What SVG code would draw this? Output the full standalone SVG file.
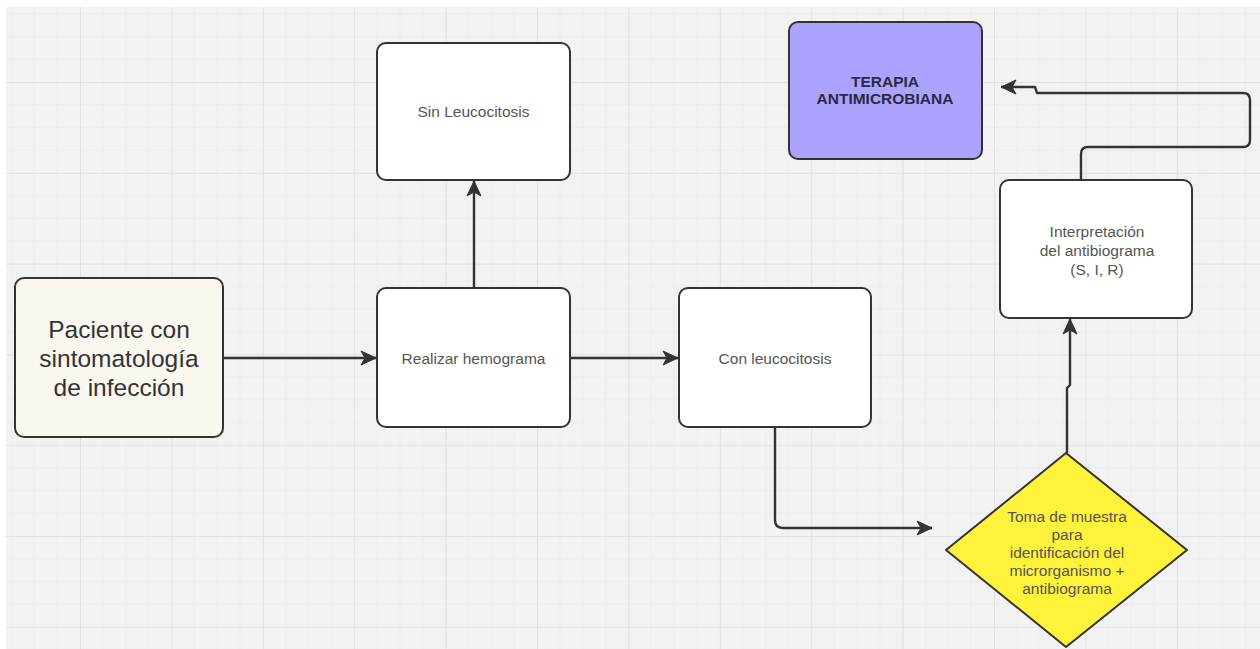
<svg xmlns="http://www.w3.org/2000/svg" width="1260" height="649" viewBox="0 0 1260 649">
<style>
.box{stroke:#333;stroke-width:2;}
.lbl{font-family:"Liberation Sans",Arial,sans-serif;font-size:15.5px;fill:#555;text-anchor:middle;}
.conn{fill:none;stroke:#333;stroke-width:2.4;stroke-linejoin:round;}
</style>
<defs>
<pattern id="grid" patternUnits="userSpaceOnUse" x="80" y="82" width="91.4" height="90.8">
<path d="M22.85 0V90.8M45.7 0V90.8M68.55 0V90.8M0 22.7H91.4M0 45.4H91.4M0 68.1H91.4" stroke="#ececec" stroke-width="1" fill="none"/>
<path d="M0.5 0V90.8M0 0.5H91.4" stroke="#e0e0e0" stroke-width="1" fill="none"/>
</pattern>
<marker id="arr" markerUnits="userSpaceOnUse" markerWidth="18" markerHeight="18" viewBox="0 0 18 18" refX="16" refY="9" orient="auto">
<path d="M1 2 L16 9 L1 16 L5 9 Z" fill="#333" stroke="#333" stroke-width="1" stroke-linejoin="round"/>
</marker>
</defs>
<rect x="0" y="0" width="1260" height="649" fill="#ffffff"/>
<rect x="6" y="7" width="1254" height="642" fill="#f2f2f2"/>
<rect x="6" y="7" width="1254" height="642" fill="url(#grid)"/>

<g id="connectors">
<path class="conn" d="M223 358H376" marker-end="url(#arr)"/>
<path class="conn" d="M570 358H678" marker-end="url(#arr)"/>
<path class="conn" d="M474 288V181" marker-end="url(#arr)"/>
<path class="conn" d="M775 427V520Q775 528 783 528H932" marker-end="url(#arr)"/>
<path class="conn" d="M1067 453V388L1070 385V319" marker-end="url(#arr)"/>
<path class="conn" d="M1081 180V154Q1081 147 1088 147H1243Q1250 147 1250 140V100Q1250 93 1243 93H1037L1035 87H1001" marker-end="url(#arr)"/>
</g>

<g id="paciente">
<rect class="box" x="15" y="278" width="208" height="159" rx="9" fill="#faf6f0"/>
<text font-family="'Liberation Sans',Arial,sans-serif" font-size="24.5" fill="#333" text-anchor="middle"><tspan x="119" y="338">Paciente con</tspan><tspan x="119" y="367">sintomatología</tspan><tspan x="119" y="396">de infección</tspan></text>
</g>

<g id="realizar">
<rect class="box" x="377" y="288" width="193" height="139" rx="9" fill="#ffffff"/>
<text class="lbl" x="473.5" y="363.5">Realizar hemograma</text>
</g>

<g id="sin">
<rect class="box" x="377" y="43" width="193" height="137" rx="9" fill="#ffffff"/>
<text class="lbl" x="473.5" y="116.5">Sin Leucocitosis</text>
</g>

<g id="con">
<rect class="box" x="679" y="288" width="192" height="139" rx="9" fill="#ffffff"/>
<text class="lbl" x="775" y="363.5">Con leucocitosis</text>
</g>

<g id="toma">
<path class="box" d="M1066 453 L1187 550 L1066 647 L946 550 Z" stroke-linejoin="round" fill="#fff23a"/>
<text class="lbl" font-size="15" fill="#4f4f30"><tspan x="1067" y="522">Toma de muestra</tspan><tspan x="1067" y="540">para</tspan><tspan x="1067" y="558">identificación del</tspan><tspan x="1067" y="576">microrganismo +</tspan><tspan x="1067" y="594">antibiograma</tspan></text>
</g>

<g id="interpretacion">
<rect class="box" x="1000" y="180" width="192" height="138" rx="9" fill="#ffffff"/>
<text class="lbl"><tspan x="1097" y="237">Interpretación</tspan><tspan x="1097" y="256">del antibiograma</tspan><tspan x="1097" y="275">(S, I, R)</tspan></text>
</g>

<g id="terapia">
<rect class="box" x="789" y="22" width="193" height="137" rx="9" fill="#aba3ff"/>
<text font-family="'Liberation Sans',Arial,sans-serif" font-size="15.5" font-weight="bold" fill="#2a2a40" text-anchor="middle"><tspan x="885" y="87">TERAPIA</tspan><tspan x="885" y="104">ANTIMICROBIANA</tspan></text>
</g>
</svg>
